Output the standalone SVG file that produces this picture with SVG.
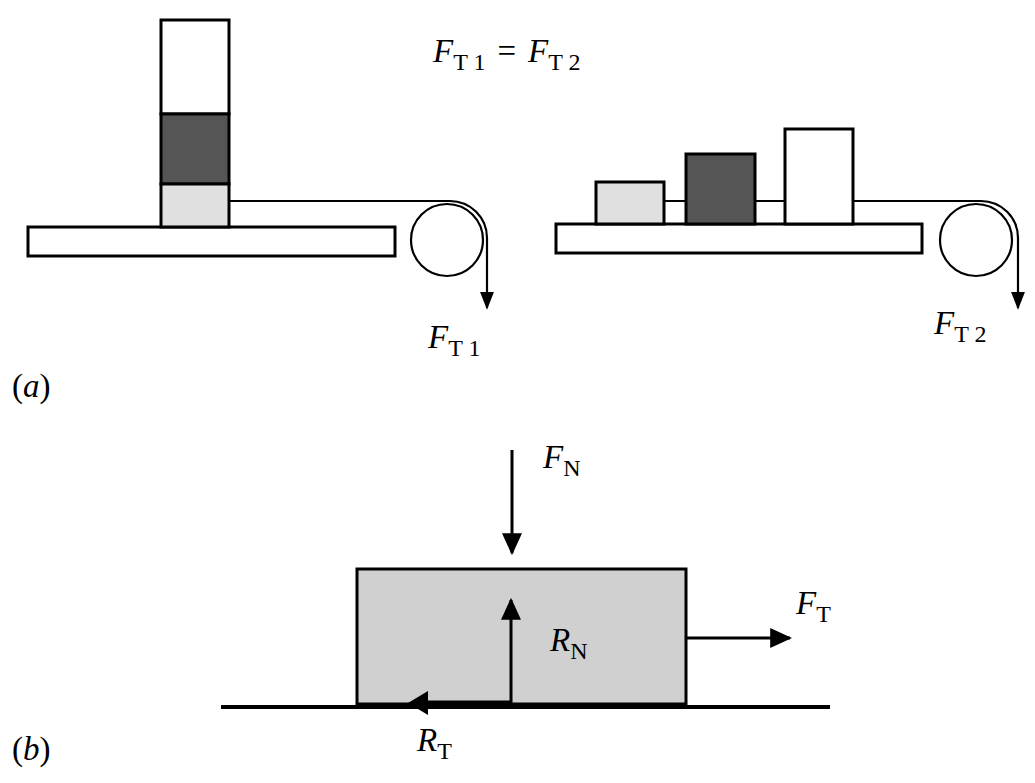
<svg xmlns="http://www.w3.org/2000/svg" width="1035" height="783" viewBox="0 0 1035 783">
<style>
.s{stroke:#000;stroke-width:3}
.r{fill:none;stroke:#000;stroke-width:2.2}
.a{stroke:#000;stroke-width:3;fill:none}
text{font-family:"Liberation Serif","DejaVu Serif",serif;font-size:33px}
.i{font-style:italic}
.sub{font-size:24px}
</style>
<defs>
<marker id="h" viewBox="0 0 10 10" refX="9" refY="5" markerWidth="22" markerHeight="20" markerUnits="userSpaceOnUse" orient="auto" preserveAspectRatio="none"><path d="M0,0L10,5L0,10z"/></marker>
<marker id="H" viewBox="0 0 10 10" refX="9" refY="5" markerWidth="18" markerHeight="14" markerUnits="userSpaceOnUse" orient="auto" preserveAspectRatio="none"><path d="M0,0L10,5L0,10z"/></marker>
</defs>
<rect width="1035" height="783" fill="#fff"/>
<g id="left">
<rect class="s" x="28" y="227" width="367" height="29" fill="#fff"/>
<rect class="s" x="161" y="20" width="68" height="94" fill="#fff"/>
<rect class="s" x="161" y="114" width="68" height="70" fill="#555"/>
<rect class="s" x="161" y="184" width="68" height="43" fill="#e0e0e0"/>
<circle class="r" cx="447" cy="240" r="36"/>
</g>
<g id="right">
<rect class="s" x="556" y="224" width="366" height="29" fill="#fff"/>
<rect class="s" x="596" y="182" width="68" height="42" fill="#e0e0e0"/>
<rect class="s" x="686" y="154" width="69" height="70" fill="#555"/>
<rect class="s" x="785" y="129" width="68" height="95" fill="#fff"/>
<circle class="r" cx="976" cy="240" r="36"/>
</g>
<g id="b">
<rect class="s" x="357" y="569" width="329" height="135" fill="#d0d0d0"/>
<line x1="221" y1="707" x2="830" y2="707" stroke="#000" stroke-width="4"/>
</g>
<g id="connectors">
<path class="r" d="M229,201H450A37,37 0 0 1 487,238V308" marker-end="url(#H)"/>
<path class="r" d="M664,201H686M755,201H785"/>
<path class="r" d="M853,201H981A37,37 0 0 1 1018,238V308" marker-end="url(#H)"/>
<line class="a" x1="512" y1="450" x2="512" y2="553" marker-end="url(#h)"/>
<line class="a" x1="511" y1="704" x2="511" y2="600" marker-end="url(#h)"/>
<path d="M511,703H413" stroke="#000" stroke-width="5" fill="none"/>
<path d="M408,703L428,691L428,715z"/>
<line class="a" x1="686" y1="638" x2="790" y2="638" marker-end="url(#h)"/>
</g>
<g id="labels">
<text x="433" y="62"><tspan class="i">F</tspan><tspan class="sub" dy="8">T 1</tspan><tspan dy="-8" dx="12">=</tspan><tspan class="i" dx="12">F</tspan><tspan class="sub" dy="8">T 2</tspan></text>
<text x="428" y="348"><tspan class="i">F</tspan><tspan class="sub" dy="8">T 1</tspan></text>
<text x="934" y="334"><tspan class="i">F</tspan><tspan class="sub" dy="8">T 2</tspan></text>
<text x="12" y="397">(<tspan class="i">a</tspan>)</text>
<text x="12" y="760">(<tspan class="i">b</tspan>)</text>
<text x="543" y="468"><tspan class="i">F</tspan><tspan class="sub" dy="8">N</tspan></text>
<text x="550" y="651"><tspan class="i">R</tspan><tspan class="sub" dy="8">N</tspan></text>
<text x="796" y="614"><tspan class="i">F</tspan><tspan class="sub" dy="8">T</tspan></text>
<text x="417" y="751"><tspan class="i">R</tspan><tspan class="sub" dy="8">T</tspan></text>
</g>
</svg>
